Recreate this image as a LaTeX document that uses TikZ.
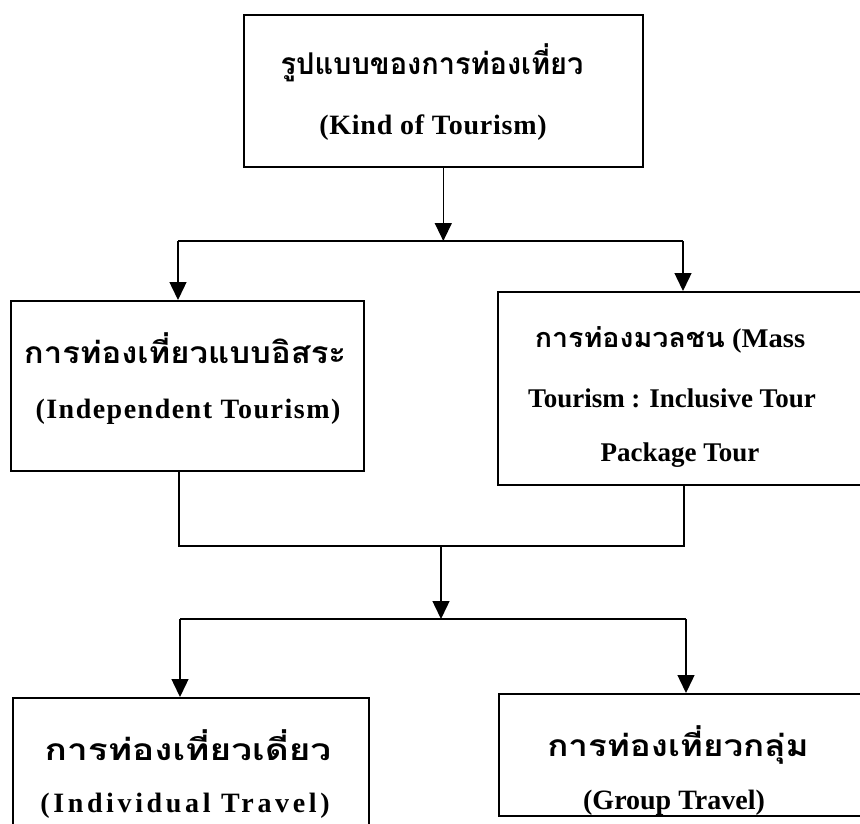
\documentclass[tikz,border=0pt]{standalone}
\usepackage{fontspec}
\setmainfont{Liberation Serif}
\newfontfamily\thaifont[Script=Thai]{Loma}
\usetikzlibrary{arrows.meta}
\newcommand{\ensp}[1]{\addfontfeatures{LetterSpace=#1}}
\newcommand{\thx}[2]{\scalebox{#1}[1]{#2}}
\begin{document}
\begin{tikzpicture}[x=1pt,y=-1pt,
  box/.style={draw, line width=1.6pt, anchor=north west, inner sep=0pt},
  conn/.style={line width=1.4pt},
  arr/.style={conn, -{Triangle[width=17pt,length=18pt]}},
  en/.style={font=\bfseries\fontsize{28}{28}\selectfont, inner sep=0pt},
  enr/.style={font=\bfseries\fontsize{27}{27}\selectfont, inner sep=0pt},
  th/.style={font=\thaifont\bfseries\fontsize{30}{30}\selectfont, inner sep=0pt}]
\useasboundingbox (0,0) rectangle (860,823);
\clip (0,0) rectangle (860,823);
\fill[white] (0,0) rectangle (860,823);
% boxes
\node[box, minimum width=399pt, minimum height=152pt] (top) at (243,14) {};
\node[box, minimum width=353pt, minimum height=170pt] (L) at (10,300) {};
\node[box, minimum width=420pt, minimum height=193pt] (R) at (497,291) {};
\node[box, minimum width=356pt, minimum height=170pt] (BL) at (12,697) {};
\node[box, minimum width=420pt, minimum height=122pt] (BR) at (498,693) {};
% texts
\node[th] (t1) at (432,63) {\thx{0.965}{รูปแบบของการท่องเที่ยว}};
\node[en] (t2) at (433,128) {\ensp{2.7}(Kind of Tourism)};
\node[th] (l1) at (185,348) {\thx{1.096}{การท่องเที่ยวแบบอิสระ}};
\node[en] (l2) at (188,412) {\ensp{5.3}(Independent Tourism)};
\node[enr] (r1) at (670,340) {\thx{1.06}{{\thaifont การท่องมวลชน} (Mass}};
\node[enr] (r2) at (672,398) {Tourism : Inclusive Tour};
\node[enr] (r3) at (680,455) {Package Tour};
\node[th] (bl1) at (188,745) {\thx{1.234}{การท่องเที่ยวเดี่ยว}};
\node[en] (bl2) at (185,806) {\ensp{13}(Individual Travel)};
\node[th] (br1) at (678,745) {\thx{1.166}{การท่องเที่ยวกลุ่ม}};
\node[en] (br2) at (674,803) {(Group Travel)};
% connectors
\coordinate (jl) at (178,241);
\coordinate (jr) at (683,241);
\coordinate (j1) at (top.south |- jl);
\draw[arr] (top.south) -- (j1);
\draw[conn] (jl) -- (jr);
\draw[arr] (jl) -- (jl |- L.north);
\draw[arr] (jr) -- (jr |- R.north);
\coordinate (b1) at (179,546);
\coordinate (b2) at (684,546);
\coordinate (bm) at (441,546);
\draw[conn] (L.south -| b1) -- (b1) -- (b2) -- (R.south -| b2);
\coordinate (j2) at (441,619);
\coordinate (jl2) at (180,619);
\coordinate (jr2) at (686,619);
\draw[arr] (bm) -- (j2);
\draw[conn] (jl2) -- (jr2);
\draw[arr] (jl2) -- (jl2 |- BL.north);
\draw[arr] (jr2) -- (jr2 |- BR.north);
\end{tikzpicture}
\end{document}
